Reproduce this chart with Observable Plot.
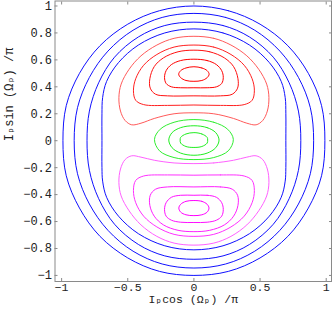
<!DOCTYPE html>
<html><head><meta charset="utf-8">
<script src="https://cdn.jsdelivr.net/npm/d3@7"></script>
<script src="https://cdn.jsdelivr.net/npm/@observablehq/plot@0.6"></script>
<style>body{margin:0;background:#fff}</style>
</head><body><div id="chart"></div>
<script>
// Right halves (x >= 0) of each closed curve, from top (x=0) clockwise to bottom (x=0)
const blue1 = [[0,1.0],[0.26,0.965],[0.5,0.865],[0.71,0.705],[0.865,0.5],[0.965,0.26],[0.99,0],[0.965,-0.26],[0.865,-0.5],[0.71,-0.71],[0.5,-0.87],[0.26,-0.97],[0,-1.0]];
const blue2 = [[0,0.945],[0.24,0.915],[0.46,0.82],[0.65,0.665],[0.79,0.47],[0.88,0.245],[0.905,0],[0.88,-0.245],[0.79,-0.47],[0.65,-0.665],[0.46,-0.82],[0.24,-0.915],[0,-0.945]];
const blue3 = [[0,0.88],[0.22,0.855],[0.42,0.77],[0.6,0.62],[0.72,0.43],[0.79,0.22],[0.808,0],[0.79,-0.22],[0.72,-0.43],[0.6,-0.62],[0.42,-0.77],[0.22,-0.855],[0,-0.88]];
const blue4 = [[0,0.83],[0.22,0.80],[0.42,0.71],[0.57,0.58],[0.66,0.44],[0.69,0.32],[0.695,0.2],[0.695,0],[0.695,-0.2],[0.69,-0.30],[0.66,-0.42],[0.57,-0.56],[0.42,-0.69],[0.22,-0.78],[0,-0.81]];

const red1 = [[0,0.549],[0.06,0.54],[0.1,0.52],[0.115,0.494],[0.1,0.468],[0.06,0.447],[0,0.441]];
const red2 = [[0,0.605],[0.1,0.595],[0.17,0.565],[0.21,0.52],[0.222,0.47],[0.21,0.425],[0.17,0.4],[0.1,0.393],[0,0.393]];
const red3 = [[0,0.672],[0.12,0.66],[0.23,0.615],[0.3,0.55],[0.333,0.46],[0.33,0.39],[0.29,0.345],[0.2,0.333],[0,0.333]];
const red4 = [[0,0.71],[0.15,0.695],[0.28,0.64],[0.38,0.56],[0.44,0.46],[0.457,0.37],[0.44,0.3],[0.38,0.268],[0.2,0.262],[0,0.265]];
const red5 = [[0,0.775],[0.15,0.76],[0.28,0.71],[0.4,0.63],[0.49,0.53],[0.55,0.42],[0.567,0.32],[0.555,0.22],[0.52,0.15],[0.47,0.118],[0.4,0.13],[0.3,0.165],[0.15,0.2],[0,0.207]];

const green1 = [[0,0.06],[0.06,0.05],[0.1,0.025],[0.104,0.005],[0.1,-0.018],[0.06,-0.043],[0,-0.05]];
const green2 = [[0,0.111],[0.1,0.097],[0.165,0.06],[0.19,0.005],[0.165,-0.052],[0.1,-0.092],[0,-0.108]];
const green3 = [[0,0.157],[0.15,0.137],[0.255,0.085],[0.298,0.01],[0.26,-0.075],[0.15,-0.125],[0,-0.14]];

const mag1 = [[0,-0.444],[0.06,-0.45],[0.1,-0.472],[0.114,-0.5],[0.1,-0.53],[0.06,-0.55],[0,-0.556]];
const mag2 = [[0,-0.405],[0.1,-0.405],[0.17,-0.42],[0.21,-0.46],[0.222,-0.51],[0.21,-0.56],[0.17,-0.59],[0.1,-0.605],[0,-0.607]];
const mag3 = [[0,-0.343],[0.2,-0.343],[0.29,-0.36],[0.33,-0.405],[0.333,-0.48],[0.3,-0.56],[0.23,-0.625],[0.12,-0.665],[0,-0.675]];
const mag4 = [[0,-0.256],[0.2,-0.254],[0.38,-0.262],[0.44,-0.295],[0.457,-0.37],[0.44,-0.46],[0.38,-0.56],[0.28,-0.64],[0.15,-0.695],[0,-0.71]];
const mag5 = [[0,-0.17],[0.15,-0.165],[0.3,-0.145],[0.4,-0.122],[0.47,-0.112],[0.52,-0.14],[0.555,-0.21],[0.567,-0.31],[0.55,-0.41],[0.49,-0.52],[0.4,-0.625],[0.28,-0.71],[0.15,-0.76],[0,-0.775]];

const xTicks = [-1,-0.5,0,0.5,1];
const yTicks = [-1,-0.8,-0.6,-0.4,-0.2,0,0.2,0.4,0.6,0.8,1];
const xLabel = "Iₚcos (Ωₚ) /π";
const yLabel = "Iₚsin (Ωₚ) /π";

const curves = [
  {pts: blue1, color: "#1010ff"}, {pts: blue2, color: "#1010ff"}, {pts: blue3, color: "#1010ff"}, {pts: blue4, color: "#1010ff"},
  {pts: red1, color: "#ff0000"}, {pts: red2, color: "#ff0000"}, {pts: red3, color: "#ff1010"}, {pts: red4, color: "#ff2020"}, {pts: red5, color: "#ff5a5a"},
  {pts: green1, color: "#20ee20"}, {pts: green2, color: "#20ee20"}, {pts: green3, color: "#30ee30"},
  {pts: mag1, color: "#ff00ff"}, {pts: mag2, color: "#ff10ff"}, {pts: mag3, color: "#ff20ff"}, {pts: mag4, color: "#ff30ff"}, {pts: mag5, color: "#ff60ff"}
];

function fullLoop(half) {
  const left = half.slice(1, -1).reverse().map(([x, y]) => [-x, y]);
  return half.concat(left).map(([x, y]) => ({x, y}));
}

const fmt = d3.format("~g");
const gray = "#8a8a8a";

const chart = Plot.plot({
  width: 332,
  height: 311,
  marginLeft: 54.5,
  marginRight: 1,
  marginTop: 0.5,
  marginBottom: 30,
  style: {fontFamily: "'Liberation Mono', 'DejaVu Sans Mono', monospace", fontSize: "12px", background: "#fff"},
  x: {domain: [-1.05, 1.04]},
  y: {domain: [-1.045, 1.037]},
  marks: [
    ...curves.map(c => Plot.line(fullLoop(c.pts), {x: "x", y: "y", curve: "catmull-rom-closed", stroke: c.color, strokeWidth: 1})),
    Plot.frame({stroke: gray}),
    Plot.axisX(xTicks, {anchor: "bottom", tickSize: -3, tickPadding: 4, stroke: gray, fill: "#222", tickFormat: fmt, label: null, fontSize: 11.5}),
    Plot.axisX(xTicks, {anchor: "top", tickSize: -3, stroke: gray, tickFormat: () => "", label: null}),
    Plot.axisY(yTicks, {anchor: "left", tickSize: -3, tickPadding: 6, stroke: gray, fill: "#222", tickFormat: fmt, label: null, fontSize: 12}),
    Plot.axisY(yTicks, {anchor: "right", tickSize: -3, stroke: gray, tickFormat: () => "", label: null}),
    Plot.text([xLabel], {frameAnchor: "bottom", dy: 21, fill: "#222", fontSize: 11.5}),
    Plot.text([yLabel], {frameAnchor: "left", dx: -46, rotate: -90, fill: "#222", fontSize: 12})
  ]
});
document.getElementById("chart").appendChild(chart);
</script>
</body></html>
